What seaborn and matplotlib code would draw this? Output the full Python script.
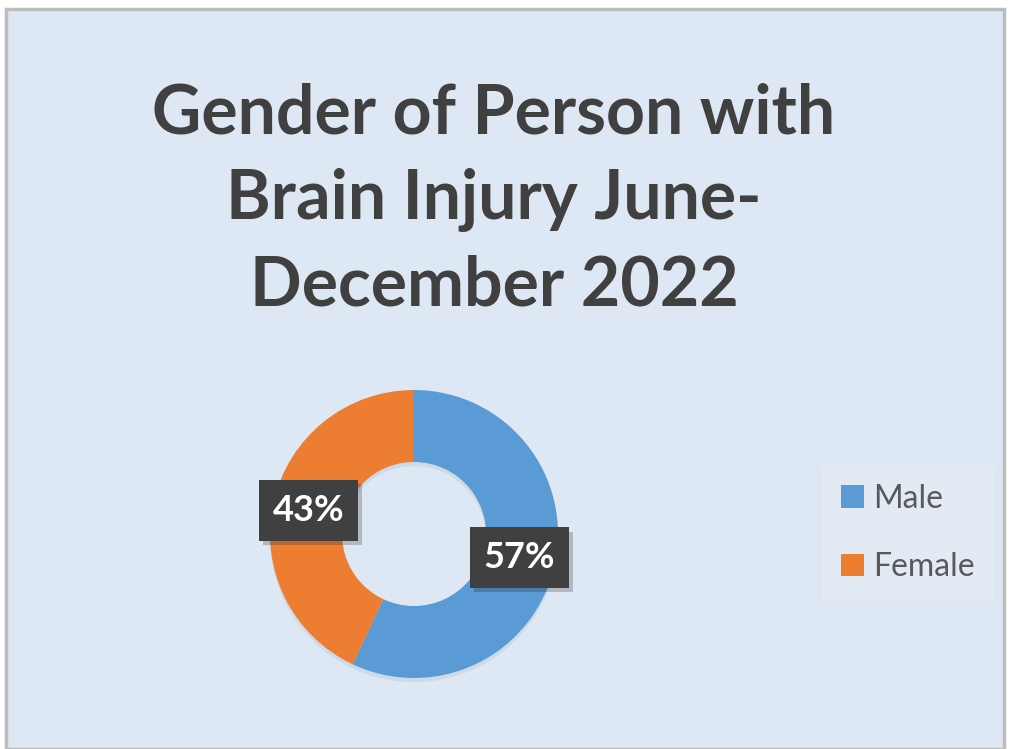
import matplotlib
matplotlib.use("Agg")
import matplotlib.pyplot as plt
import matplotlib.patheffects as pe
from matplotlib.patches import Rectangle, Patch
import seaborn as sns

# data
genders = ["Male", "Female"]
shares = [57, 43]
title_lines = ["Gender of Person with", "Brain Injury June-", "December 2022"]

sns.set_theme(style="white")
plt.rcParams["font.family"] = ["Lato", "DejaVu Sans"]

bg = "#dde8f4"
colors = ["#5b9bd5", "#ed7d31"]

fig = plt.figure(figsize=(10.1, 7.49), dpi=100)
fig.patch.set_facecolor("white")
W, H = 1010, 749

# chart area with grey frame
fig.patches.append(Rectangle((6 / W, 0), (1004 - 6) / W, (749 - 9) / H,
                             transform=fig.transFigure, facecolor=bg,
                             edgecolor="#bdbdbd", linewidth=2.5, zorder=-5))

# title
fig.text(494 / W, 1 - 200 / H, "\n".join(title_lines), ha="center", va="center",
         fontsize=49, fontweight="bold", color="#404040", linespacing=1.44)

# donut
cx, cy, r = 414, 534, 144
half = 160
ax = fig.add_axes([(cx - half) / W, (H - cy - half) / H, 2 * half / W, 2 * half / H])
ax.set_facecolor("none")
wedges, texts, autotexts = ax.pie(
    shares, colors=colors, startangle=90, counterclock=False,
    autopct="%d%%", pctdistance=0.75, radius=1.0,
    wedgeprops=dict(width=0.5, edgecolor="none"),
)
for w in wedges:
    w.set_path_effects([pe.SimplePatchShadow(offset=(0, -3), alpha=0.12, shadow_rgbFace="#6a7d94"),
                        pe.Normal()])
ax.set_xlim(-half / r, half / r)
ax.set_ylim(-half / r, half / r)
ax.set_aspect("equal")
ax.axis("off")

for t in autotexts:
    t.set_color("white")
    t.set_fontsize(26)
    t.set_fontweight("bold")
    t.set_bbox(dict(boxstyle="square,pad=0.38", facecolor="#404040",
                    edgecolor="none"))
    t.get_bbox_patch().set_path_effects(
        [pe.SimplePatchShadow(offset=(3, -3), alpha=0.22), pe.Normal()])

# legend
handles = [Patch(facecolor=c, edgecolor="none", label=g) for g, c in zip(genders, colors)]
leg = fig.legend(handles=handles, loc="center left",
                 bbox_to_anchor=(822 / W, 1 - 533 / H),
                 frameon=True, fancybox=False, fontsize=23,
                 handlelength=0.7, handleheight=0.7, handletextpad=0.3,
                 labelspacing=1.2, borderpad=0.6, borderaxespad=0)
leg.get_frame().set_facecolor("#e4ecf5")
leg.get_frame().set_edgecolor("none")
for txt in leg.get_texts():
    txt.set_color("#595959")

fig.savefig("out.png", dpi=100, facecolor=fig.get_facecolor())
